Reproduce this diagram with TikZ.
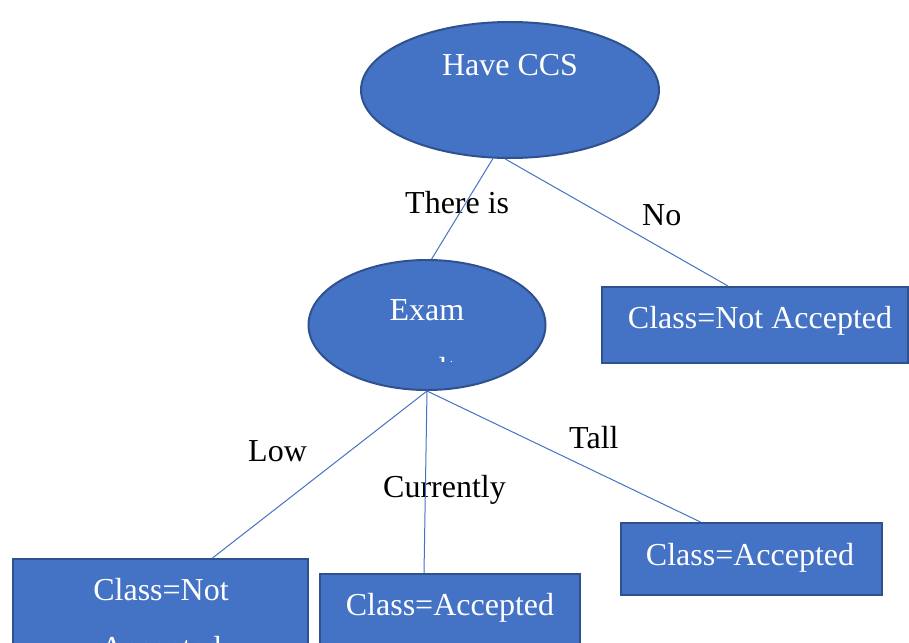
\documentclass[tikz,border=0pt]{standalone}
\usepackage{fontspec}
\setmainfont{Liberation Serif}
\usetikzlibrary{shapes.geometric,calc}
\definecolor{nodeblue}{HTML}{4472C4}
\definecolor{rimblue}{HTML}{2F528F}

\begin{document}
\begin{tikzpicture}[
  x=1pt, y=-1pt,
  font=\fontsize{32}{38}\selectfont,
  test/.style={ellipse, draw=rimblue, line width=2pt, fill=nodeblue, inner sep=0pt},
  leaf/.style={rectangle, draw=rimblue, line width=2pt, fill=nodeblue, inner sep=0pt},
  wt/.style={text=white, anchor=base, inner sep=0pt},
  lbl/.style={anchor=base west, inner sep=0pt},
  br/.style={draw=nodeblue, line width=1pt}
]
\useasboundingbox (0,0) rectangle (909,642);
\clip (0,0) rectangle (909,642);
% tests
\node[test, minimum width=298pt, minimum height=136pt] (ccs)  at (510,90)  {};
\node[test, minimum width=237pt, minimum height=130pt] (exam) at (427,325) {};
% leaves
\node[leaf, minimum width=306pt, minimum height=76pt]  (rej)     at (755,325)   {};
\node[leaf, minimum width=295pt, minimum height=122pt] (lowbox)  at (160.5,620) {};
\node[leaf, minimum width=260pt, minimum height=76pt]  (curbox)  at (450,612)   {};
\node[leaf, minimum width=261pt, minimum height=72pt]  (tallbox) at (751.5,559) {};
% texts
\node[wt] (ccst)  at (510,75)  {Have CCS};
\node[wt] (examt) at (427,320) {Exam};
\begin{scope}
  \clip (300,330) rectangle (560,361);
  \node[wt] (examt2) at (427,379) {results};
\end{scope}
\node[wt] (rejt)   at (760,328) {Class=Not Accepted};
\node[wt] (lowt)   at (161,600) {Class=Not};
\node[wt] (lowt2)  at (161,658) {Accepted};
\node[wt] (curt)   at (450,615) {Class=Accepted};
\node[wt] (tallt)  at (750,565) {Class=Accepted};
% branch labels
\node[lbl] (yes)  at (405,213) {There is};
\node[lbl] (no)   at (642,225) {No};
\node[lbl] (low)  at (248,461) {Low};
\node[lbl] (cur)  at (383,497) {Currently};
\node[lbl] (tall) at (569,448) {Tall};
% branches
\draw[br] (ccs.256) -- (exam.86);
\draw[br] (ccs.266) -- ($(rej.north)+(-27,0)$);
\draw[br] (exam.270) -- ($(lowbox.north)+(52,0)$);
\draw[br] (exam.270) -- ($(curbox.north)+(-26,0)$);
\draw[br] (exam.270) -- ($(tallbox.north)+(-51,0)$);
\end{tikzpicture}
\end{document}
